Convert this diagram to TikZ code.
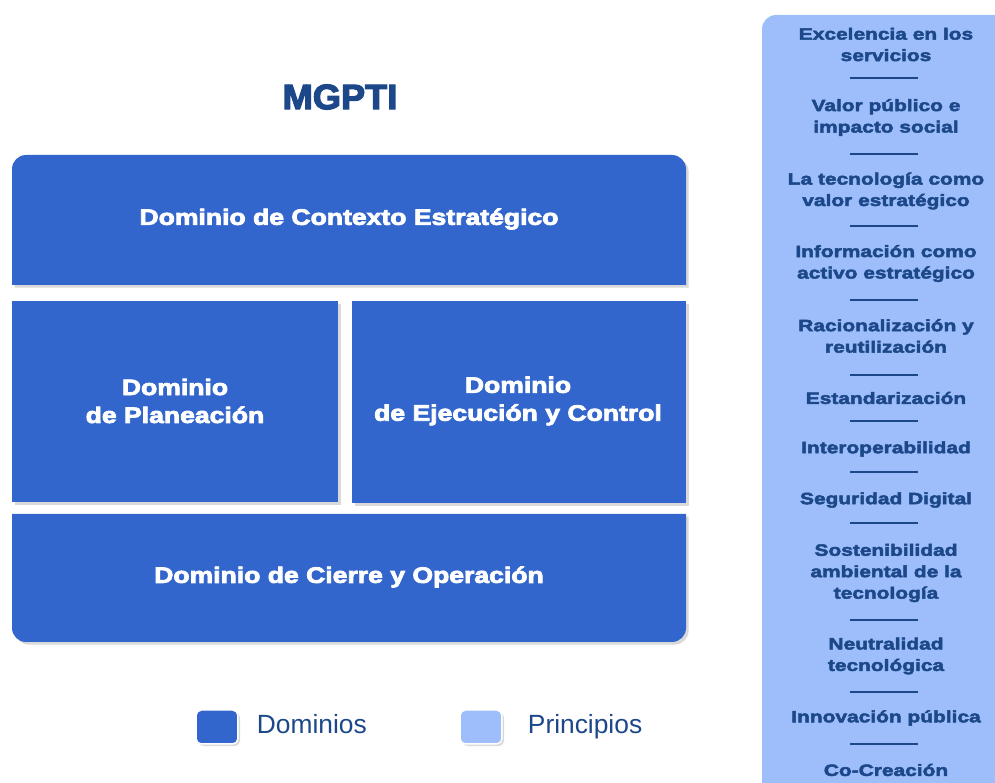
\documentclass[tikz,border=0pt]{standalone}
\usepackage{fontspec}
\setmainfont{Liberation Sans}
\newfontfamily\negra{Liberation Sans}[FakeStretch=1.19, FakeBold=3.5]
\newfontfamily\negrap{Liberation Sans}[FakeStretch=1.28, FakeBold=3]
\newfontfamily\negrat{Liberation Sans}[FakeStretch=1.03, FakeBold=3.5]
\usetikzlibrary{positioning,shadows}
\definecolor{dom}{RGB}{51,102,204}
\definecolor{prin}{RGB}{157,190,250}
\definecolor{ink}{RGB}{28,72,138}
\tikzstyle{bloque} = [fill=dom, drop shadow={shadow xshift=1.5pt, shadow yshift=-1.5pt, opacity=0.3}]
\tikzstyle{dtexto} = [text=white, font=\negra\bfseries\fontsize{12.7}{15.9}\selectfont, align=center]
\tikzstyle{principio} = [text=ink, font=\negrap\bfseries\fontsize{9.3}{12.2}\selectfont, align=center, inner sep=0pt]
\tikzstyle{leyenda} = [rectangle, rounded corners=3pt, draw=white, line width=0.8pt, minimum width=23.8pt, minimum height=19.3pt, drop shadow={shadow xshift=1.2pt, shadow yshift=-1.2pt, opacity=0.3}]
\tikzstyle{ltexto} = [text=ink, font=\fontsize{15}{18}\selectfont, inner sep=0pt, text height=0.72em, text depth=0pt]

\begin{document}
\begin{tikzpicture}[x=0.02cm, y=-0.02cm]
    \useasboundingbox (0,0) rectangle (995,783);
    \fill[prin] (762,783) [rounded corners=8pt] -- (762,15) [sharp corners] -- (995,15) -- (995,783) -- cycle;

    \node [text=ink, font=\negrat\bfseries\fontsize{20}{24}\selectfont] (titulo) at (340,97) {MGPTI};

    \fill[bloque] (12,285) [rounded corners=8pt] -- (12,155) -- (686,155) [sharp corners] -- (686,285) -- cycle;
    \fill[bloque] (12,301) rectangle (338,502);
    \fill[bloque] (352,301) rectangle (686,503);
    \fill[bloque] (12,514) -- (686,514) [rounded corners=8pt] -- (686,642) -- (12,642) [sharp corners] -- cycle;

    \node [dtexto] (contexto) at (349,219) {Dominio de Contexto Estratégico};
    \node [dtexto] (planeacion) at (175,401) {Dominio\\de Planeación};
    \node [dtexto] (ejecucion) at (518,401) {Dominio\\de Ejecución y Control};
    \node [dtexto] (cierre) at (349,577) {Dominio de Cierre y Operación};

    \node [leyenda, fill=dom] (ldom) at (217,727) {};
    \node [ltexto, right=0.36cm of ldom] (tdom) {Dominios};
    \node [leyenda, fill=prin] (lprin) at (481,727) {};
    \node [ltexto, right=0.5cm of lprin] (tprin) {Principios};

    \node [principio] (p1) at (886,44.5) {Excelencia en los\\servicios};
    \node [principio] (p2) at (886,117.5) {Valor público e\\impacto social};
    \node [principio] (p3) at (886,191) {La tecnología como\\valor estratégico};
    \node [principio] (p4) at (886,263.5) {Información como\\activo estratégico};
    \node [principio] (p5) at (886,336) {Racionalización y\\reutilización};
    \node [principio] (p6) at (886,398) {Estandarización};
    \node [principio] (p7) at (886,449) {Interoperabilidad};
    \node [principio] (p8) at (886,500) {Seguridad Digital};
    \node [principio] (p9) at (886,573) {Sostenibilidad\\ambiental de la\\tecnología};
    \node [principio] (p10) at (886,656) {Neutralidad\\tecnológica};
    \node [principio] (p11) at (886,718) {Innovación pública};
    \node [principio] (p12) at (886,770) {Co-Creación};

    \foreach \y in {78,154,226,300,375,421,472,523,620,692,744}
        \draw [ink, line width=1pt] (850,\y) -- (918,\y);
\end{tikzpicture}
\end{document}
